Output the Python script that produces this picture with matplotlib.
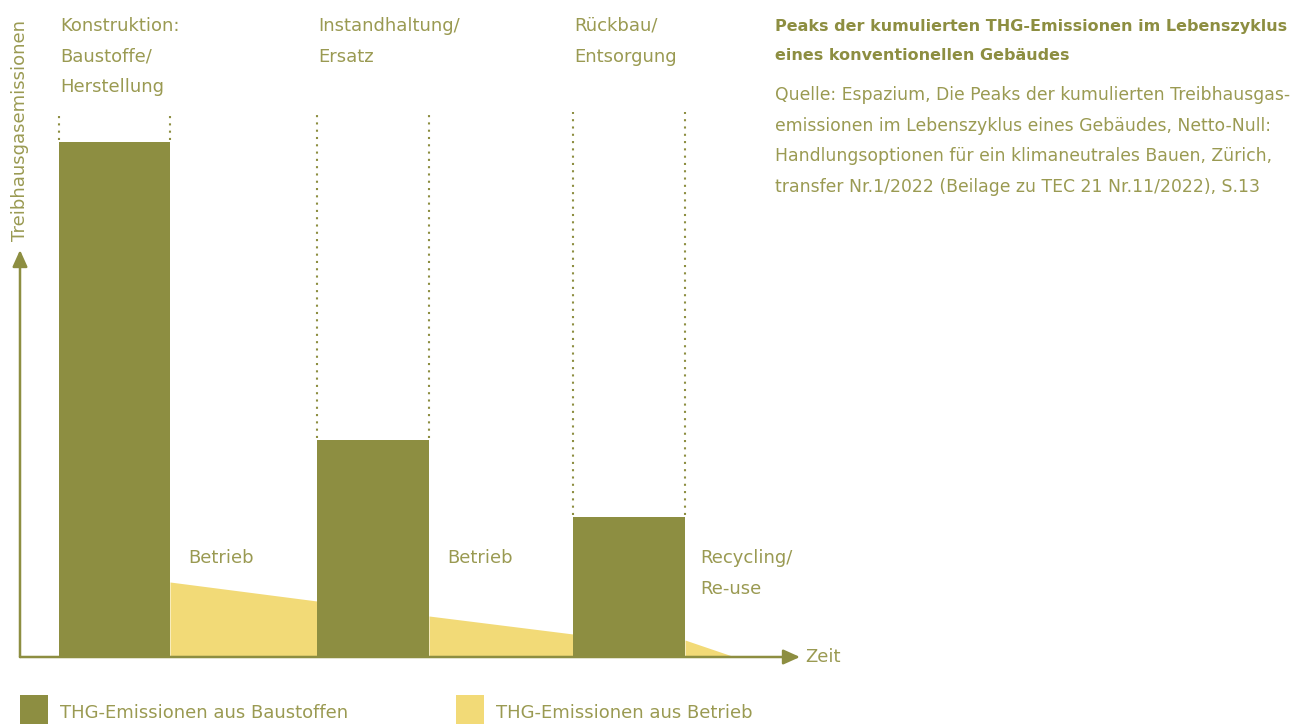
import matplotlib
matplotlib.use("Agg")
import matplotlib.pyplot as plt
from matplotlib.patches import Rectangle

# Farben
OLIVE = "#8d8e41"
TEXT = "#9a9a52"
YELLOW = "#f2da77"

# Daten (willkürliche Einheiten: Zeit / Emissionen)
phase_labels = ["Konstruktion:\nBaustoffe/\nHerstellung", "Instandhaltung/\nErsatz", "Rückbau/\nEntsorgung"]
bar_start = [3.9, 29.7, 55.3]
bar_width = [11.1, 11.2, 11.2]
bar_height = [51.5, 21.7, 14.0]

# Betrieb (gelbe Flächen): Start/Ende Zeit, Start/Ende Wert
op_x = [[15.0, 29.7], [40.9, 55.3], [66.5, 71.5]]
op_y = [[7.5, 5.6], [4.1, 2.3], [1.7, 0.0]]
op_labels = ["Betrieb", "Betrieb", "Recycling/\nRe-use"]

legend_labels = ["THG-Emissionen aus Baustoffen", "THG-Emissionen aus Betrieb"]
title = "Peaks der kumulierten THG-Emissionen im Lebenszyklus\neines konventionellen Gebäudes"
source = ("Quelle: Espazium, Die Peaks der kumulierten Treibhausgas-\n"
          "emissionen im Lebenszyklus eines Gebäudes, Netto-Null:\n"
          "Handlungsoptionen für ein klimaneutrales Bauen, Zürich,\n"
          "transfer Nr.1/2022 (Beilage zu TEC 21 Nr.11/2022), S.13")

plt.rcParams["font.family"] = ["DejaVu Sans"]
FS = 13

W, H = 1308, 724
fig = plt.figure(figsize=(W / 100, H / 100), dpi=100)
# Achse: x 20..800 px, y 657..112 px
ax = fig.add_axes([20 / W, (H - 657) / H, 780 / W, 545 / H])
ax.set_xlim(0, 78)
ax.set_ylim(0, 54.5)
ax.axis("off")

# Balken
ax.bar(bar_start, bar_height, width=bar_width, align="edge", color=OLIVE, zorder=2)

# gepunktete Hilfslinien
top = ax.get_ylim()[1]
for x0, w, h in zip(bar_start, bar_width, bar_height):
    for xx in (x0, x0 + w):
        ax.plot([xx, xx], [h + 0.2, top], color=OLIVE, lw=1.5, ls=(0, (1, 2.5)), zorder=1, clip_on=False)

# Betrieb-Flächen
for xs, ys in zip(op_x, op_y):
    ax.fill_between(xs, [0, 0], ys, color=YELLOW, lw=0, zorder=1)

# Achsen mit Pfeilen
arrow = dict(arrowstyle="-|>,head_length=1.0,head_width=0.45", color=OLIVE, lw=1.8, shrinkA=0, shrinkB=0)
ax.annotate("", xy=(78, 0), xytext=(0, 0), annotation_clip=False, arrowprops=arrow, zorder=3)
ax.annotate("", xy=(0, 40.7), xytext=(0, 0), annotation_clip=False, arrowprops=arrow, zorder=3)
ax.text(78.5, 0, "Zeit", color=TEXT, fontsize=FS, va="center", ha="left", clip_on=False)

# Phasen-Beschriftungen
for x0, lab in zip(bar_start, phase_labels):
    ax.text(x0 + 0.1, 64.0, lab, color=TEXT, fontsize=FS, va="top", ha="left",
            linespacing=1.9, clip_on=False)

op_label_x = [16.8, 42.7, 68.0]
for xl, lab in zip(op_label_x, op_labels):
    ax.text(xl, 10.8, lab, color=TEXT, fontsize=FS, va="top", ha="left",
            linespacing=1.9, clip_on=False)

# Y-Achsentitel
fig.text(20 / W, 1 - 20 / H, "Treibhausgasemissionen", rotation=90, color=TEXT,
         fontsize=FS, ha="center", va="top")

# Titel und Quelle
fig.text(775 / W, 1 - 19 / H, title, color=OLIVE, fontsize=11.55, fontweight="bold",
         va="top", ha="left", linespacing=2.17)
fig.text(775 / W, 1 - 86 / H, source, color=TEXT, fontsize=12.4, va="top", ha="left",
         linespacing=1.91)

# Legende
for x0, col, lab in zip([20, 456], [OLIVE, YELLOW], legend_labels):
    fig.add_artist(Rectangle((x0 / W, 0), 28 / W, 29 / H, transform=fig.transFigure,
                             color=col, lw=0))
    fig.text((x0 + 40) / W, 1 - 713 / H, lab, color=TEXT, fontsize=FS, va="center", ha="left")

fig.savefig("out.png", dpi=100, facecolor="white")
